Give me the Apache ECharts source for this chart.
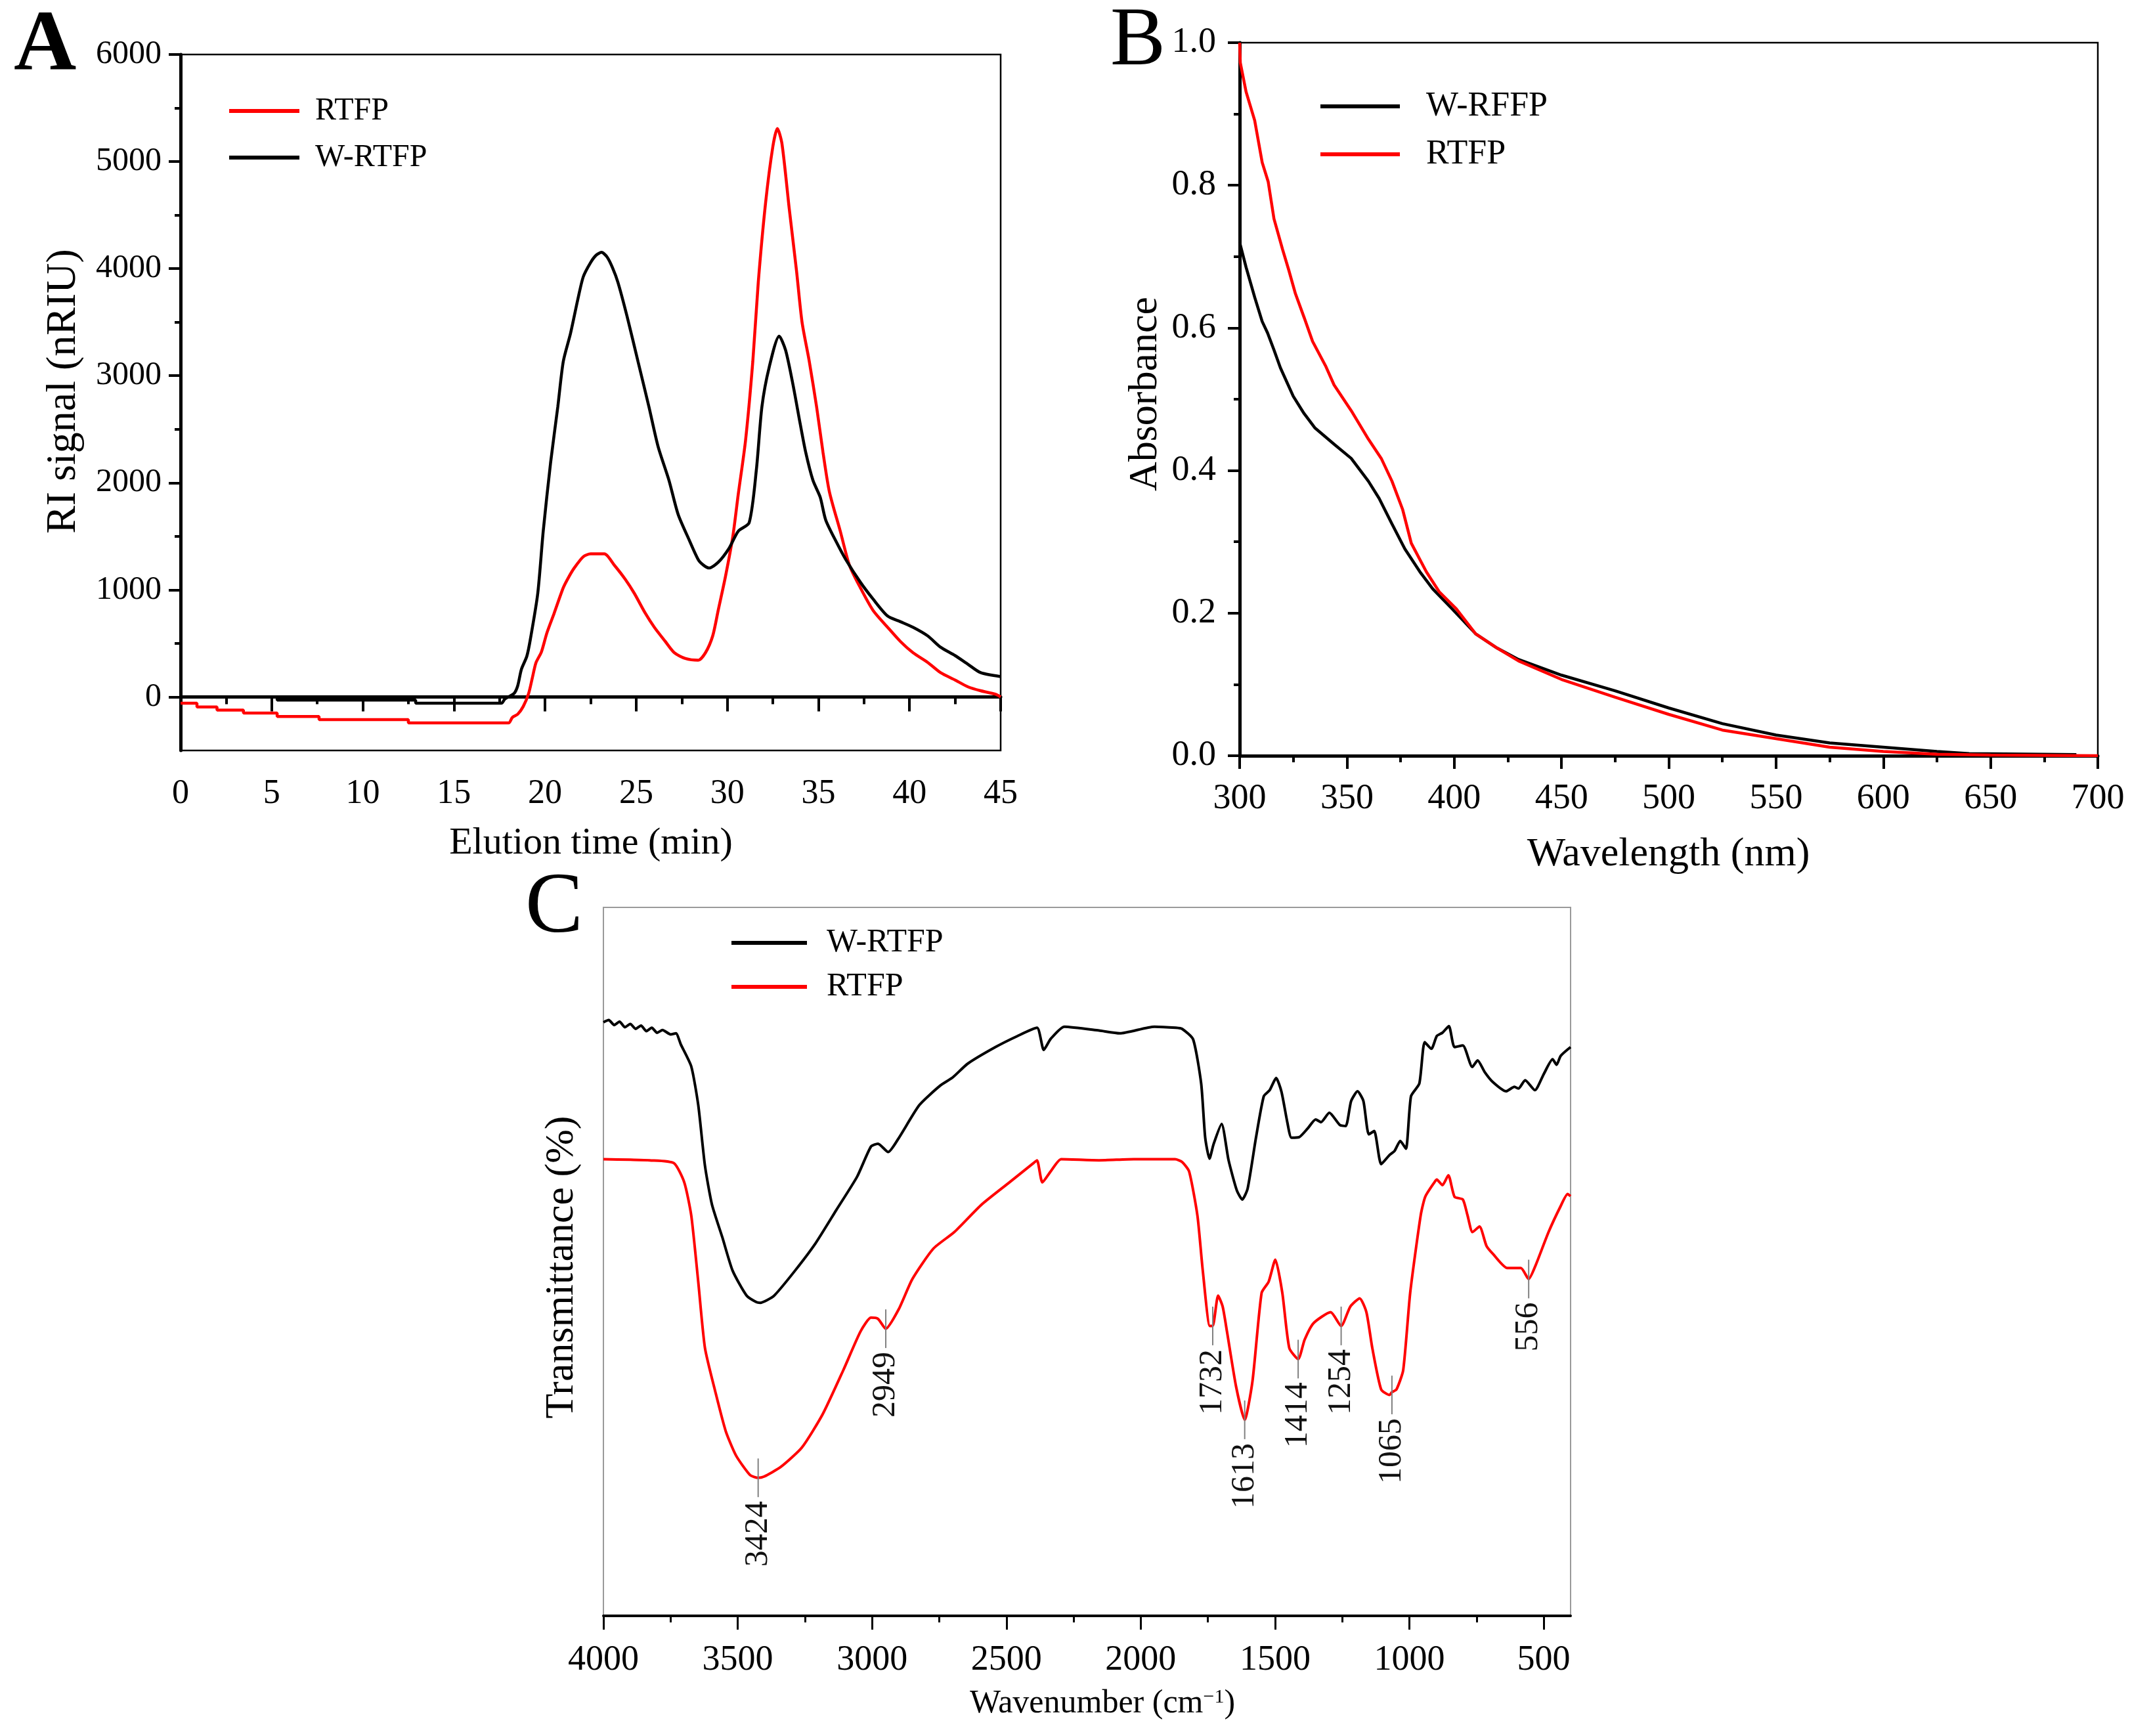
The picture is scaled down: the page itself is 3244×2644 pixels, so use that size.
<!DOCTYPE html>
<html><head><meta charset="utf-8">
<script src="https://cdn.jsdelivr.net/npm/echarts@6/dist/echarts.min.js"></script>
<style>html,body{margin:0;padding:0;background:#fff}#c{width:3244px;height:2644px}</style>
</head><body><div id="c"></div>
<script>
const FONT = '"Liberation Serif", "Times New Roman", serif';

// ---------- Panel A: RI signal vs elution time ----------
const rtfpA = [[0,-59],[0.9,-59],[0.9,-94],[2.0,-94],[2.0,-123],[3.45,-123],[3.45,-151],[5.3,-151],[5.3,-182],[7.6,-182],[7.6,-212],[12.5,-212],[12.5,-243],[18.0,-243],[18.2,-192],[18.5,-161],[18.8,-90],[19.1,33],[19.3,176],[19.5,319],[19.8,420],[20.1,597],[20.5,782],[21.0,1020],[21.3,1120],[21.6,1204],[22.1,1310],[22.5,1336],[23.25,1336],[23.8,1231],[24.4,1099],[24.9,967],[25.5,782],[26.0,650],[26.6,518],[27.1,412],[27.7,359],[28.4,343],[28.8,412],[29.2,570],[29.5,808],[29.9,1125],[30.3,1495],[30.6,1891],[31.0,2393],[31.4,3133],[31.7,3872],[32.1,4612],[32.5,5140],[32.75,5309],[33.0,5167],[33.4,4559],[33.8,3978],[34.1,3502],[34.5,3133],[34.9,2710],[35.25,2287],[35.6,1918],[36.2,1548],[36.7,1231],[37.3,1020],[38.0,808],[38.8,650],[39.5,518],[40.2,412],[41.0,322],[41.7,227],[42.5,158],[43.2,95],[43.9,58],[44.7,26],[45,0]];
const wrtfpA = [[0,0],[5.3,0],[5.3,-29],[12.9,-29],[12.9,-59],[17.6,-59],[17.8,-18],[18.3,33],[18.5,104],[18.7,257],[19.0,380],[19.2,544],[19.6,967],[19.9,1548],[20.3,2182],[20.7,2710],[21.0,3133],[21.4,3397],[21.8,3714],[22.1,3925],[22.5,4057],[22.8,4125],[23.1,4152],[23.4,4110],[23.7,4010],[24.0,3872],[24.5,3555],[25.1,3133],[25.7,2710],[26.2,2340],[26.8,2023],[27.3,1706],[27.9,1469],[28.4,1284],[28.7,1230],[29.0,1204],[29.5,1257],[30.1,1389],[30.6,1548],[31.2,1627],[31.6,2129],[31.9,2710],[32.3,3080],[32.85,3370],[33.2,3238],[33.6,2921],[34.0,2551],[34.3,2287],[34.7,2023],[35.1,1865],[35.4,1653],[36.0,1442],[36.5,1284],[37.3,1072],[38.0,914],[38.8,755],[39.5,703],[40.2,650],[41.0,570],[41.7,465],[42.5,386],[43.2,306],[43.9,227],[45,190]];
const yTicksA = [0,1000,2000,3000,4000,5000,6000];
const yMinorA = [500,1500,2500,3500,4500,5500];

// ---------- Panel B: UV absorbance ----------
const wrffpB = [[300,0.72],[303,0.685],[307,0.643],[310.5,0.609],[313,0.593],[316,0.569],[319,0.544],[325,0.504],[330,0.48],[335,0.46],[344,0.437],[352,0.417],[360,0.385],[365,0.361],[371,0.325],[377,0.29],[384,0.258],[390,0.234],[399,0.206],[410,0.171],[420,0.151],[430,0.135],[450,0.113],[475,0.091],[500,0.067],[525,0.045],[550,0.029],[575,0.018],[600,0.012],[625,0.006],[640,0.003],[690,0.0016]];
const rtfpB = [[300,1.0],[300.3,0.972],[303,0.931],[307,0.891],[310.5,0.832],[313.3,0.805],[316,0.753],[320,0.71],[323,0.68],[326,0.648],[330,0.615],[334,0.581],[340,0.547],[344,0.52],[352,0.484],[360,0.444],[366,0.417],[371,0.385],[376,0.345],[380,0.298],[387,0.258],[393,0.23],[401,0.206],[410,0.171],[420,0.151],[430,0.133],[450,0.107],[475,0.082],[500,0.058],[525,0.036],[550,0.024],[575,0.012],[600,0.006],[625,0.002],[650,0.001],[700,0]];

// ---------- Panel C: FT-IR ----------
const wrtfpC = [[4000,107.5],[3980,107.9],[3960,107],[3940,107.6],[3920,106.6],[3900,107.2],[3880,106.3],[3860,106.9],[3840,105.9],[3820,106.5],[3800,105.6],[3780,106.1],[3750,105.3],[3730,105.5],[3712,103.5],[3673,99.5],[3647,92.5],[3622,81.5],[3596,74.5],[3557,68.5],[3519,62.5],[3467,58],[3430,56.8],[3416,56.7],[3390,57.2],[3364,58],[3287,62.5],[3210,67.5],[3133,73.5],[3056,79.5],[3004,85],[2978,85.5],[2940,84],[2901,86.5],[2824,92.5],[2747,96],[2700,97.5],[2644,100],[2541,103],[2459,105],[2386,106.5],[2361,102.5],[2335,104.5],[2284,106.7],[2155,106],[2078,105.5],[1949,106.7],[1870,106.5],[1846,106.3],[1805,104.4],[1775,96.4],[1760,86.6],[1744,82.8],[1729,85.4],[1699,89.1],[1673,82.5],[1642,77],[1622,75.4],[1602,77.4],[1571,86.6],[1542,94.1],[1520,95.2],[1496,97.4],[1476,94.9],[1454,89.3],[1439,86.6],[1410,86.7],[1378,88.3],[1349,89.9],[1329,89.4],[1298,91.1],[1259,88.9],[1237,88.7],[1217,93.2],[1193,95],[1171,93.2],[1151,87.2],[1131,87.8],[1105,81.8],[1075,83.4],[1055,84.2],[1034,86],[1013,84.6],[994,94.1],[963,96.4],[943,103.9],[918,102.7],[898,105],[877,105.6],[853,106.8],[832,103],[801,103.3],[766,99.4],[746,100.6],[720,98.5],[690,96.7],[640,95],[609,95.8],[594,95.5],[569,97],[533,95.2],[499,98.2],[467,100.8],[452,99.8],[437,101.4],[400,103]];
const rtfpC = [[4000,82.7],[3900,82.6],[3828,82.5],[3738,82],[3699,78.5],[3673,72.5],[3647,60.5],[3622,48.5],[3583,40.5],[3545,33.5],[3506,29],[3454,25.5],[3424,25],[3403,25.2],[3339,27],[3261,30.5],[3184,36.5],[3107,44.5],[3043,51.5],[3004,54],[2978,53.8],[2949,52],[2901,55.5],[2850,61],[2772,66.5],[2694,69.5],[2592,74.5],[2489,78.5],[2399,82],[2386,82.5],[2366,78.5],[2335,80.5],[2296,82.7],[2155,82.5],[2026,82.7],[1872,82.7],[1846,82.2],[1820,80.5],[1789,72.5],[1769,62.5],[1743,52.5],[1732,52.5],[1712,58],[1695,56],[1679,51.5],[1645,41.5],[1613,35.5],[1584,42.5],[1550,58.5],[1524,60.5],[1499,64.5],[1473,58.5],[1447,48.5],[1414,46.5],[1390,50],[1357,53],[1293,55],[1254,52.5],[1220,56],[1185,57.5],[1160,55],[1138,48.5],[1105,41],[1074,40],[1065,40.5],[1048,41],[1023,44.5],[997,58.5],[958,72.5],[941,75.9],[907,78.5],[898,79],[877,78],[855,79.8],[832,75.9],[801,75.4],[784,72.6],[765,69.5],[739,70.5],[713,67],[688,65.5],[636,63],[585,63],[556,61],[530,63.5],[482,69.5],[437,74.2],[411,76.4],[400,76]];
const peaksC = [[3424,25],[2949,52],[1732,52.5],[1613,35.5],[1414,46.5],[1254,52.5],[1065,40],[556,61]];
const xTicksC = [4000,3500,3000,2500,2000,1500,1000,500];
const xMinorC = [3750,3250,2750,2250,1750,1250,750];

const chart = echarts.init(document.getElementById('c'), null, {renderer:'canvas'});

const black = '#000000', red = '#ff0000';
const plain = v => String(v);
const lbl = (size, margin) => ({color:black, fontFamily:FONT, fontSize:size, margin:margin, showMinLabel:true, showMaxLabel:true, formatter:plain});

const option = {
  animation:false,
  backgroundColor:'#ffffff',
  grid:[
    {left:275, top:83, width:1249, height:1060, show:true, borderColor:black, borderWidth:2.5, backgroundColor:'transparent', outerBoundsMode:'none'},
    {left:1888, top:65, width:1307, height:1086, show:true, borderColor:black, borderWidth:2.5, backgroundColor:'transparent', outerBoundsMode:'none'},
    {left:919, top:1382, width:1473, height:1079, show:true, borderColor:'#9a9a9a', borderWidth:2, backgroundColor:'transparent', outerBoundsMode:'none'}
  ],
  xAxis:[
    {gridIndex:0, type:'value', position:'bottom', min:0, max:45, interval:5,
     axisLine:{lineStyle:{color:black, width:5}},
     axisTick:{inside:false, length:22, lineStyle:{color:black, width:4}},
     minorTick:{show:true, splitNumber:2, length:11, lineStyle:{color:black, width:4}},
     axisLabel:lbl(52,40), splitLine:{show:false}, minorSplitLine:{show:false}},
    {gridIndex:1, type:'value', position:'bottom', min:300, max:700, interval:50,
     axisLine:{lineStyle:{color:black, width:5}},
     axisTick:{inside:false, length:20, lineStyle:{color:black, width:4}},
     minorTick:{show:true, splitNumber:2, length:10, lineStyle:{color:black, width:4}},
     axisLabel:lbl(54,39), splitLine:{show:false}},
    {gridIndex:2, type:'value', position:'bottom', min:400, max:4000, inverse:true,
     axisLine:{lineStyle:{color:black, width:4}},
     axisTick:{inside:false, length:21, customValues:xTicksC, lineStyle:{color:black, width:3}},
     axisLabel:Object.assign(lbl(54,41), {customValues:xTicksC}), splitLine:{show:false}},
    {gridIndex:2, type:'value', position:'bottom', min:400, max:4000, inverse:true,
     axisLine:{show:false},
     axisTick:{inside:false, length:10, customValues:xMinorC, lineStyle:{color:black, width:3}},
     axisLabel:{show:false}, splitLine:{show:false}}
  ],
  yAxis:[
    {gridIndex:0, type:'value', position:'left', min:-500, max:6000, interval:500,
     axisLine:{show:true, lineStyle:{color:black, width:5}},
     axisTick:{show:true, inside:false, length:18, customValues:yTicksA, lineStyle:{color:black, width:4}},
     axisLabel:Object.assign(lbl(50,29), {customValues:yTicksA}), splitLine:{show:false}},
    {gridIndex:0, type:'value', position:'left', min:-500, max:6000,
     axisLine:{show:false},
     axisTick:{show:true, inside:false, length:9, customValues:yMinorA, lineStyle:{color:black, width:4}},
     axisLabel:{show:false}, splitLine:{show:false}},
    {gridIndex:1, type:'value', position:'left', min:0, max:1, interval:0.2,
     axisLine:{show:true, lineStyle:{color:black, width:5}},
     axisTick:{show:true, inside:false, length:18, lineStyle:{color:black, width:4}},
     minorTick:{show:true, splitNumber:2, length:9, lineStyle:{color:black, width:4}},
     axisLabel:Object.assign(lbl(54,36), {formatter:v => v.toFixed(1)}), splitLine:{show:false}},
    {gridIndex:2, type:'value', position:'left', min:0, max:128.3, show:false, splitLine:{show:false}}
  ],
  legend:[
    {left:344, top:139, orient:'vertical', data:['RTFP','W-RTFP'], icon:'rect', itemWidth:107, itemHeight:6, itemGap:21,
     selectedMode:false, itemStyle:{borderWidth:0}, textStyle:{fontFamily:FONT, fontSize:48, lineHeight:50, color:black, padding:[0,0,0,19]}},
    {left:2006, top:131, orient:'vertical', data:['W-RFFP','RTFP'], icon:'rect', itemWidth:121, itemHeight:6, itemGap:21,
     selectedMode:false, itemStyle:{borderWidth:0}, textStyle:{fontFamily:FONT, fontSize:52, lineHeight:50, color:black, padding:[0,0,0,35]}},
    {left:1109, top:1406, orient:'vertical', data:['W-RTFP','RTFP'], icon:'rect', itemWidth:115, itemHeight:6, itemGap:17,
     selectedMode:false, itemStyle:{borderWidth:0}, textStyle:{fontFamily:FONT, fontSize:50, lineHeight:50, color:black, padding:[0,0,0,25]}}
  ],
  graphic:[
    {type:'text', x:21, y:72, style:{text:'A', fontFamily:FONT, fontWeight:'bold', fontSize:132, fill:black, align:'left', verticalAlign:'middle'}},
    {type:'text', x:1691, y:65, style:{text:'B', fontFamily:FONT, fontSize:126, fill:black, align:'left', verticalAlign:'middle'}},
    {type:'text', x:800, y:1384, style:{text:'C', fontFamily:FONT, fontSize:132, fill:black, align:'left', verticalAlign:'middle'}},
    {type:'text', x:900, y:1285, style:{text:'Elution time (min)', fontFamily:FONT, fontSize:58, fill:black, align:'center', verticalAlign:'middle'}},
    {type:'text', x:97, y:596, rotation:Math.PI/2, style:{text:'RI signal (nRIU)', fontFamily:FONT, fontSize:64, fill:black, align:'center', verticalAlign:'middle'}},
    {type:'text', x:2541, y:1302, style:{text:'Wavelength (nm)', fontFamily:FONT, fontSize:62, fill:black, align:'center', verticalAlign:'middle'}},
    {type:'text', x:1745, y:600, rotation:Math.PI/2, style:{text:'Absorbance', fontFamily:FONT, fontSize:62, fill:black, align:'center', verticalAlign:'middle'}},
    {type:'text', x:1679, y:2595, style:{text:'{a|Wavenumber (cm}{s|\u22121}{a|)}', fill:black, align:'center', verticalAlign:'middle',
      rich:{a:{fontFamily:FONT, fontSize:50, fill:black}, s:{fontFamily:FONT, fontSize:30, fill:black, verticalAlign:'top'}}}},
    {type:'text', x:856, y:1930, rotation:Math.PI/2, style:{text:'Transmittance (%)', fontFamily:FONT, fontSize:62, fill:black, align:'center', verticalAlign:'middle'}}
  ],
  series:[
    {type:'line', name:'RTFP', xAxisIndex:0, yAxisIndex:0, data:rtfpA, showSymbol:false, symbol:'none', z:3, smooth:0.25,
     lineStyle:{color:red, width:4.5}, itemStyle:{color:red}},
    {type:'line', name:'W-RTFP', xAxisIndex:0, yAxisIndex:0, data:wrtfpA, showSymbol:false, symbol:'none', z:4, smooth:0.25,
     lineStyle:{color:black, width:4.5}, itemStyle:{color:black}},
    {type:'line', name:'W-RFFP', xAxisIndex:1, yAxisIndex:2, data:wrffpB, showSymbol:false, symbol:'none', z:3,
     lineStyle:{color:black, width:4.5}, itemStyle:{color:black}},
    {type:'line', name:'RTFP', xAxisIndex:1, yAxisIndex:2, data:rtfpB, showSymbol:false, symbol:'none', z:4,
     lineStyle:{color:red, width:4.5}, itemStyle:{color:red}},
    {type:'line', name:'W-RTFP', xAxisIndex:2, yAxisIndex:3, data:wrtfpC, showSymbol:false, symbol:'none', smooth:0.2,
     lineStyle:{color:black, width:4}, itemStyle:{color:black}},
    {type:'line', name:'RTFP', xAxisIndex:2, yAxisIndex:3, data:rtfpC, showSymbol:false, symbol:'none', smooth:0.2,
     lineStyle:{color:red, width:4}, itemStyle:{color:red}},
    {type:'custom', name:'peaks', xAxisIndex:2, yAxisIndex:3, data:peaksC, encode:{x:0, y:1}, clip:false, z:5,
     renderItem:function(params, api){
       const wn = api.value(0), v = api.value(1);
       const p1 = api.coord([wn, v + 3.5]);
       const p2 = api.coord([wn, v - 3.5]);
       return {type:'group', children:[
         {type:'line', shape:{x1:p1[0], y1:p1[1], x2:p2[0], y2:p2[1]}, style:{stroke:'#808080', lineWidth:2}},
         {type:'text', x:p2[0], y:p2[1] + 6, rotation:Math.PI/2,
          style:{text:String(wn), fontFamily:FONT, fontSize:50, fill:'#111', align:'right', verticalAlign:'middle'}}
       ]};
     }}
  ]
};
chart.setOption(option);
</script>
</body></html>
